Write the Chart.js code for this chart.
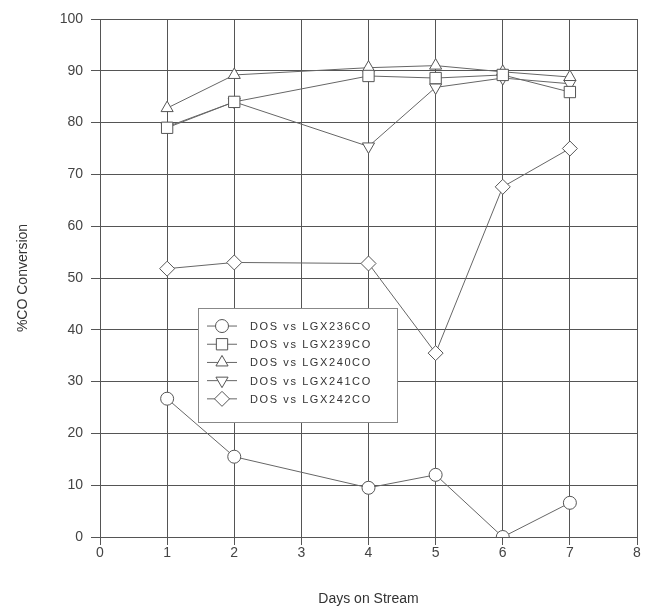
<!DOCTYPE html>
<html>
<head>
<meta charset="utf-8">
<script src="https://cdn.jsdelivr.net/npm/chart.js@4/dist/chart.umd.min.js"></script>
<style>
  html, body { margin: 0; padding: 0; background: #fff; }
  #wrap { width: 647px; height: 614px; }
</style>
</head>
<body>
<div id="wrap"><canvas id="chart" width="647" height="614"></canvas></div>
<script>
// days on stream (x) and %CO conversion per catalyst
const days = [1, 2, 4, 5, 6, 7];
const seriesNames = [
  "DOS vs LGX236CO",
  "DOS vs LGX239CO",
  "DOS vs LGX240CO",
  "DOS vs LGX241CO",
  "DOS vs LGX242CO",
];
const lgx236 = [26.7, 15.5, 9.5, 12, 0, 6.6];
const lgx239 = [79, 84, 89, 88.6, 89.2, 85.9];
const lgx240 = [82.8, 89.2, 90.6, 91, 89.8, 88.8];
const lgx241 = [79.2, 84, 75.4, 86.8, 88.6, 87.5];
const lgx242 = [51.8, 53, 52.8, 35.5, 67.6, 75];
const xTicks = [0, 1, 2, 3, 4, 5, 6, 7, 8];
const yTicks = [0, 10, 20, 30, 40, 50, 60, 70, 80, 90, 100];

const markers = [
  { style: "circle", rotation: 0, radius: 6.5 },
  { style: "rect", rotation: 0, radius: 8 },
  { style: "triangle", rotation: 0, radius: 7 },
  { style: "triangle", rotation: 180, radius: 7 },
  { style: "rectRot", rotation: 0, radius: 7.5 },
];
const ink = "#555";

const datasets = [lgx236, lgx239, lgx240, lgx241, lgx242].map((vals, i) => ({
  label: seriesNames[i],
  data: vals.map((v, j) => ({ x: days[j], y: v })),
  borderColor: "#666",
  borderWidth: 1,
  backgroundColor: "#fff",
  pointStyle: markers[i].style,
  pointRotation: markers[i].rotation,
  pointRadius: markers[i].radius,
  pointBorderColor: ink,
  pointBorderWidth: 1,
  pointBackgroundColor: "#fff",
  tension: 0,
}));

// boxed legend sitting inside the plot
const boxLegend = {
  id: "boxLegend",
  afterDatasetsDraw(chart) {
    const { ctx } = chart;
    const xs = chart.scales.x;
    const ys = chart.scales.y;
    const left = xs.getPixelForValue(1.46);
    const right = xs.getPixelForValue(4.43);
    const top = ys.getPixelForValue(44.2);
    const bottom = ys.getPixelForValue(22.2);
    ctx.save();
    ctx.fillStyle = "#fff";
    ctx.fillRect(left, top, right - left, bottom - top);
    ctx.strokeStyle = "#888";
    ctx.lineWidth = 1;
    ctx.strokeRect(Math.round(left) + 0.5, Math.round(top) + 0.5, Math.round(right - left), Math.round(bottom - top));
    ctx.font = "11px 'Liberation Sans', Arial, sans-serif";
    ctx.letterSpacing = "1.6px";
    ctx.textBaseline = "middle";
    chart.data.datasets.forEach((ds, i) => {
      const y = top + 18 + i * 18.2;
      ctx.strokeStyle = "#666";
      ctx.beginPath();
      ctx.moveTo(left + 9, y);
      ctx.lineTo(left + 39, y);
      ctx.stroke();
      ctx.fillStyle = "#fff";
      ctx.strokeStyle = ink;
      Chart.helpers.drawPoint(ctx, {
        pointStyle: ds.pointStyle,
        rotation: ds.pointRotation,
        radius: ds.pointRadius,
        borderWidth: 1,
      }, left + 24, y);
      ctx.fillStyle = "#333";
      ctx.fillText(ds.label, left + 52, y + 1);
    });
    ctx.restore();
  },
};

new Chart(document.getElementById("chart"), {
  type: "line",
  data: { datasets },
  plugins: [boxLegend],
  options: {
    responsive: false,
    animation: false,
    layout: { padding: { top: 19, right: 10, left: 0, bottom: 0 } },
    plugins: { legend: { display: false }, tooltip: { enabled: false } },
    scales: {
      x: {
        type: "linear",
        min: 0,
        max: 8,
        afterBuildTicks: (axis) => { axis.ticks = xTicks.map((v) => ({ value: v })); },
        afterFit: (axis) => { axis.height = 77; },
        grid: { color: ink, lineWidth: 1, tickLength: 8, tickColor: ink },
        border: { color: ink },
        ticks: {
          color: "#444",
          padding: 0,
          font: { family: "'Liberation Sans', Arial, sans-serif", size: 14 },
        },
        title: {
          display: true,
          text: "Days on Stream",
          color: "#333",
          padding: { top: 4, bottom: 6 },
          font: { family: "'Liberation Sans', Arial, sans-serif", size: 14 },
        },
      },
      y: {
        min: 0,
        max: 100,
        afterBuildTicks: (axis) => { axis.ticks = yTicks.map((v) => ({ value: v })); },
        afterFit: (axis) => { axis.width = 100; },
        grid: { color: ink, lineWidth: 1, tickLength: 9, tickColor: ink },
        border: { color: ink },
        ticks: {
          color: "#444",
          padding: 8,
          font: { family: "'Liberation Sans', Arial, sans-serif", size: 14 },
        },
        title: {
          display: true,
          text: "%CO Conversion",
          color: "#333",
          padding: { top: 15, bottom: 0 },
          font: { family: "'Liberation Sans', Arial, sans-serif", size: 14 },
        },
      },
    },
  },
});
</script>
</body>
</html>
